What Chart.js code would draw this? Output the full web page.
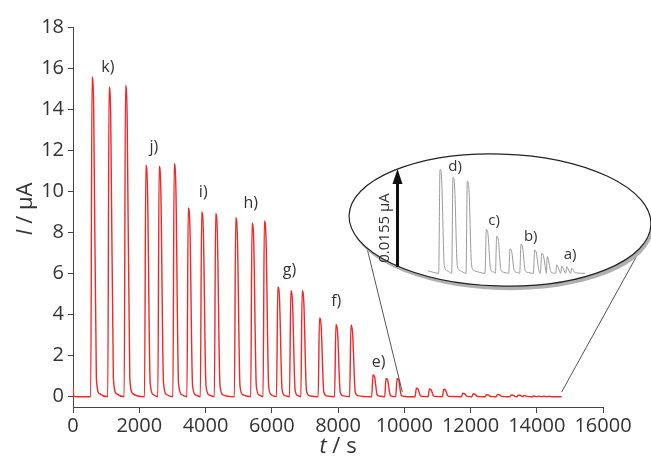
<!DOCTYPE html>
<html><head><meta charset="utf-8">
<script src="https://cdn.jsdelivr.net/npm/chart.js@4"></script>
<style>
html,body{margin:0;padding:0;background:#fff;}
#wrap{position:relative;width:651px;height:456px;overflow:hidden;}
#main{position:absolute;left:0;top:0;}
#inset{position:absolute;left:420px;top:150px;}
</style></head>
<body><div id="wrap"><canvas id="main" width="651" height="456"></canvas><canvas id="inset" width="175" height="135"></canvas></div>
<script>
// ---- data ----
const xTickValues = [0, 2000, 4000, 6000, 8000, 10000, 12000, 14000, 16000];
const yTickValues = [0, 2, 4, 6, 8, 10, 12, 14, 16, 18];

const timeS = [
  0, 25, 100,
  535, 575, 625, 705, 795,
  1049, 1089, 1139, 1219, 1309,
  1545, 1585, 1635, 1715, 1805,
  2159, 2199, 2249, 2329, 2419,
  2561, 2601, 2651, 2731, 2821,
  3015, 3055, 3105, 3185, 3275,
  3439, 3479, 3529, 3609, 3699,
  3844, 3884, 3934, 4014, 4104,
  4267, 4307, 4357, 4437, 4527,
  4872, 4912, 4962, 5042, 5132,
  5365, 5405, 5455, 5535, 5625,
  5737, 5777, 5827, 5907, 5997,
  6143, 6183, 6233, 6313, 6403,
  6536, 6576, 6626, 6706, 6796,
  6878, 6918, 6968, 7048, 7138,
  7401, 7441, 7491, 7571, 7661,
  7897, 7937, 7987, 8067, 8157,
  8351, 8391, 8441, 8521, 8611,
  9016, 9056, 9106, 9186, 9276,
  9410, 9450, 9500, 9580, 9670,
  9742, 9782, 9832, 9912, 10002,
  10326, 10366, 10416, 10496, 10586,
  10719, 10759, 10809, 10889, 10979,
  11152, 11192, 11242, 11322, 11412,
  11727, 11767, 11817, 11897, 11987,
  12041, 12081, 12131, 12211, 12301,
  12443, 12483, 12533, 12613, 12703,
  12776, 12816, 12866, 12946, 13036,
  13190, 13230, 13280, 13360,
  13402, 13442, 13492, 13572,
  13582, 13612, 13652, 13722,
  13866, 13896, 13936, 13996,
  14017, 14047, 14087, 14147,
  14168, 14198, 14238, 14298,
  14320, 14350, 14390, 14450,
  14750
];
const currentUA = [
  0.55, 0.02, 0,
  0, 15.57, 14.0, 0.9, 0.15,
  0, 15.08, 13.6, 0.9, 0.15,
  0, 15.15, 13.6, 0.9, 0.15,
  0, 11.27, 10.1, 0.7, 0.11,
  0, 11.22, 10.1, 0.7, 0.11,
  0, 11.34, 10.2, 0.7, 0.11,
  0, 9.19, 8.3, 0.55, 0.09,
  0, 9.0, 8.1, 0.55, 0.09,
  0, 8.92, 8.0, 0.55, 0.09,
  0, 8.71, 7.8, 0.5, 0.09,
  0, 8.46, 7.6, 0.5, 0.08,
  0, 8.56, 7.7, 0.5, 0.08,
  0, 5.35, 4.8, 0.32, 0.05,
  0, 5.16, 4.6, 0.3, 0.05,
  0, 5.16, 4.6, 0.3, 0.05,
  0, 3.84, 3.45, 0.23, 0.04,
  0, 3.52, 3.15, 0.21, 0.04,
  0, 3.49, 3.1, 0.21, 0.04,
  0, 1.07, 0.95, 0.07, 0.02,
  0, 0.89, 0.8, 0.06, 0.01,
  0, 0.89, 0.8, 0.06, 0.01,
  0, 0.41, 0.37, 0.03, 0.01,
  0, 0.378, 0.34, 0.03, 0.01,
  0, 0.363, 0.33, 0.03, 0.01,
  0, 0.173, 0.155, 0.015, 0.005,
  0, 0.147, 0.13, 0.012, 0.004,
  0, 0.096, 0.086, 0.01, 0.003,
  0, 0.115, 0.1, 0.01, 0.003,
  0, 0.092, 0.08, 0.008,
  0, 0.079, 0.07, 0.006,
  0, 0.066, 0.05, 0.005,
  0, 0.033, 0.025, 0.003,
  0, 0.029, 0.02, 0.003,
  0, 0.026, 0.018, 0.002,
  0, 0.02, 0.014, 0.002,
  0
];

const peakLabels = ['k)', 'j)', 'i)', 'h)', 'g)', 'f)', 'e)'];
const peakLabelT = [1050, 2442, 3932, 5366, 6534, 7946, 9226];
const peakLabelI = [16.04, 12.13, 9.97, 9.41, 6.16, 4.65, 1.65];

const insetLabels = ['d)', 'c)', 'b)', 'a)'];
const insetLabelT = [10820, 12000, 13110, 14300];
const insetLabelI = [0.42, 0.206, 0.144, 0.072];
const insetStartS = 10000;
const insetArrowText = '0.0155 µA';

const coneEndT = [9942, 14752];
const coneEndI = 0.23;

// ---- drawing ----
const FONT = '"Open Sans", "Liberation Sans", sans-serif';
const TXT = '#333';

function drawMixed(ctx, parts, x, y) {
  let w = 0;
  parts.forEach(p => { ctx.font = (p[1] ? 'italic ' : '') + '22px ' + FONT; w += ctx.measureText(p[0]).width; });
  let cx = x - w / 2;
  ctx.textAlign = 'left';
  parts.forEach(p => { ctx.font = (p[1] ? 'italic ' : '') + '22px ' + FONT; ctx.fillText(p[0], cx, y); cx += ctx.measureText(p[0]).width; });
}

const decor = {
  id: 'decor',
  afterDatasetsDraw(chart) {
    const { ctx, scales: { x, y } } = chart;
    ctx.save();
    ctx.font = '16px ' + FONT; ctx.fillStyle = TXT; ctx.textAlign = 'center'; ctx.textBaseline = 'middle';
    peakLabels.forEach((s, i) => ctx.fillText(s, x.getPixelForValue(peakLabelT[i]), y.getPixelForValue(peakLabelI[i])));
    // cone lines
    ctx.strokeStyle = '#555'; ctx.lineWidth = 1;
    ctx.beginPath();
    ctx.moveTo(365, 240); ctx.lineTo(x.getPixelForValue(coneEndT[0]), y.getPixelForValue(coneEndI));
    ctx.moveTo(640, 250); ctx.lineTo(x.getPixelForValue(coneEndT[1]), y.getPixelForValue(coneEndI));
    ctx.stroke();
    // ellipse shadow + body
    const cx = 500, cy = 220, rx = 151, ry = 66, rot = 0.03;
    ctx.fillStyle = '#b0b0b0';
    ctx.beginPath(); ctx.ellipse(cx + 2, cy + 4, rx, ry, rot, 0, Math.PI * 2); ctx.fill();
    ctx.fillStyle = '#fff'; ctx.strokeStyle = '#222'; ctx.lineWidth = 1.2;
    ctx.beginPath(); ctx.ellipse(cx, cy, rx, ry, rot, 0, Math.PI * 2); ctx.fill(); ctx.stroke();
    // arrow
    ctx.strokeStyle = '#111'; ctx.fillStyle = '#111'; ctx.lineWidth = 3;
    ctx.beginPath(); ctx.moveTo(397.5, 267); ctx.lineTo(397.5, 182); ctx.stroke();
    ctx.beginPath(); ctx.moveTo(397.5, 169); ctx.lineTo(402.5, 184); ctx.lineTo(392.5, 184); ctx.closePath(); ctx.fill();
    // arrow text
    ctx.save();
    ctx.translate(385, 228); ctx.rotate(-Math.PI / 2);
    ctx.font = '15px ' + FONT; ctx.fillStyle = TXT; ctx.textAlign = 'center'; ctx.textBaseline = 'middle';
    ctx.fillText(insetArrowText, 0, 0);
    ctx.restore();
    // axis titles
    ctx.fillStyle = TXT; ctx.textBaseline = 'alphabetic';
    drawMixed(ctx, [['t', true], [' / s', false]], (x.left + x.right) / 2, 453);
    ctx.save();
    ctx.translate(32, 209); ctx.rotate(-Math.PI / 2);
    drawMixed(ctx, [['I', true], [' / µA', false]], 0, 0);
    ctx.restore();
    ctx.restore();
  }
};

const insetDecor = {
  id: 'insetDecor',
  afterDatasetsDraw(chart) {
    const { ctx, scales: { x, y } } = chart;
    ctx.save();
    ctx.font = '15px ' + FONT; ctx.fillStyle = TXT; ctx.textAlign = 'center'; ctx.textBaseline = 'middle';
    insetLabels.forEach((s, i) => ctx.fillText(s, x.getPixelForValue(insetLabelT[i]), y.getPixelForValue(insetLabelI[i])));
    ctx.restore();
  }
};

function build() {
  const pts = timeS.map((t, i) => ({ x: t, y: currentUA[i] }));
  new Chart(document.getElementById('main'), {
    type: 'line',
    data: { datasets: [{ data: pts, borderColor: '#f02828', borderWidth: 1.4, pointRadius: 0, cubicInterpolationMode: 'monotone', fill: false }] },
    options: {
      responsive: false, animation: false, devicePixelRatio: 1,
      layout: { padding: { top: 27, right: 48, left: 0, bottom: 0 } },
      plugins: { legend: { display: false }, tooltip: { enabled: false } },
      scales: {
        x: {
          type: 'linear', min: 0, max: 16000,
          afterBuildTicks: s => { s.ticks = xTickValues.map(v => ({ value: v })); },
          afterFit: s => { s.height = 49; },
          ticks: { font: { family: FONT, size: 20 }, color: TXT, padding: 1, maxRotation: 0, autoSkip: false, callback: v => String(v) },
          grid: { drawOnChartArea: false, drawTicks: true, tickLength: 6, color: '#444', lineWidth: 1 },
          border: { color: '#444', width: 1 }
        },
        y: {
          type: 'linear', min: -0.5, max: 18,
          afterBuildTicks: s => { s.ticks = yTickValues.map(v => ({ value: v })); },
          afterFit: s => { s.width = 73; },
          ticks: { font: { family: FONT, size: 20 }, color: TXT, padding: 4, autoSkip: false, callback: v => String(v) },
          grid: { drawOnChartArea: false, drawTicks: true, tickLength: 5, color: '#444', lineWidth: 1 },
          border: { color: '#444', width: 1 }
        }
      }
    },
    plugins: [decor]
  });

  const insetPts = pts.filter(p => p.x >= insetStartS);
  new Chart(document.getElementById('inset'), {
    type: 'line',
    data: { datasets: [{ data: insetPts, borderColor: '#9a9a9a', borderWidth: 1, pointRadius: 0, cubicInterpolationMode: 'monotone', fill: false }] },
    options: {
      responsive: false, animation: false, devicePixelRatio: 1,
      layout: { padding: 0 },
      plugins: { legend: { display: false }, tooltip: { enabled: false } },
      scales: {
        x: { type: 'linear', min: 9761, max: 15054, display: false },
        y: { type: 'linear', min: -0.0461, max: 0.486, display: false }
      }
    },
    plugins: [insetDecor]
  });
}

if (document.fonts && document.fonts.load) {
  Promise.all([document.fonts.load('20px "Open Sans"'), document.fonts.load('italic 22px "Open Sans"')]).then(build, build);
} else { build(); }
</script>
</body></html>
